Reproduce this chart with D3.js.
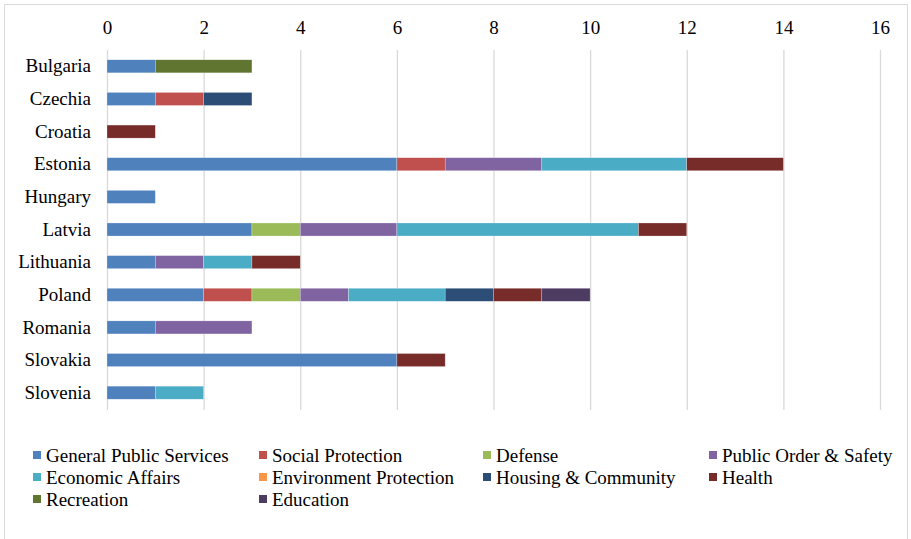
<!DOCTYPE html>
<html><head><meta charset="utf-8">
<script src="https://cdn.jsdelivr.net/npm/d3@7"></script>
<style>body{margin:0;background:#fff}svg{display:block}text{font-family:"Liberation Serif","Times New Roman",serif}</style>
</head><body><svg id="c" width="911" height="539"></svg>
<script>
const countries = ["Bulgaria","Czechia","Croatia","Estonia","Hungary","Latvia","Lithuania","Poland","Romania","Slovakia","Slovenia"];
const seriesNames = ["General Public Services","Social Protection","Defense","Public Order & Safety","Economic Affairs","Environment Protection","Housing & Community","Health","Recreation","Education"];
const seriesColors = ["#4F81BD","#C0504D","#9BBB59","#8064A2","#4BACC6","#F79646","#2C4D75","#772C2A","#5F7530","#4D3B62"];
const generalPublicServices = [1,1,0,6,1,3,1,2,1,6,1];
const socialProtection      = [0,1,0,1,0,0,0,1,0,0,0];
const defense               = [0,0,0,0,0,1,0,1,0,0,0];
const publicOrderSafety     = [0,0,0,2,0,2,1,1,2,0,0];
const economicAffairs       = [0,0,0,3,0,5,1,2,0,0,1];
const environmentProtection = [0,0,0,0,0,0,0,0,0,0,0];
const housingCommunity      = [0,1,0,0,0,0,0,1,0,0,0];
const health                = [0,0,1,2,0,1,1,1,0,1,0];
const recreation            = [2,0,0,0,0,0,0,0,0,0,0];
const education             = [0,0,0,0,0,0,0,1,0,0,0];
const tickValues = [0,2,4,6,8,10,12,14,16];

const seriesValues = [generalPublicServices,socialProtection,defense,publicOrderSafety,economicAffairs,environmentProtection,housingCommunity,health,recreation,education];
const table = countries.map((c,i)=>{const o={country:c};seriesNames.forEach((s,j)=>o[s]=seriesValues[j][i]);return o;});
const stack = d3.stack().keys(seriesNames)(table);

const svg = d3.select("#c");
const font = "Liberation Serif, Times New Roman, serif";
svg.append("rect").attr("x",4.5).attr("y",4.5).attr("width",903).attr("height",540).attr("fill","#fff").attr("stroke","#d9d9d9");

const x = d3.scaleLinear().domain([0,16]).range([107,880]);
const y = d3.scaleBand().domain(countries).range([50,409]).paddingInner(0.6).paddingOuter(0.3);

const xAxis = svg.append("g").attr("transform","translate(0,50)")
  .call(d3.axisTop(x).tickValues(tickValues).tickSize(-360).tickFormat(d3.format("d")));
xAxis.attr("font-family",font);
xAxis.select(".domain").remove();
xAxis.selectAll(".tick line").attr("stroke","#d9d9d9").attr("stroke-width",1.3);
xAxis.selectAll(".tick text").attr("font-family",font).attr("font-size",19).attr("fill","#000").attr("y",-16).attr("dy","0");

const yAxis = svg.append("g").attr("transform","translate(107,0)")
  .call(d3.axisLeft(y).tickSize(0).tickPadding(16));
yAxis.attr("font-family",font);
yAxis.select(".domain").remove();
yAxis.selectAll(".tick text").attr("font-family",font).attr("font-size",19).attr("fill","#000");

svg.append("g").selectAll("g").data(stack).join("g")
  .attr("fill",(d,i)=>seriesColors[i])
  .selectAll("rect").data(d=>d.filter(v=>v[1]>v[0])).join("rect")
  .attr("x",d=>x(d[0])).attr("width",d=>x(d[1])-x(d[0]))
  .attr("y",d=>y(d.data.country)).attr("height",y.bandwidth())
  .attr("stroke","rgba(255,255,255,0.5)").attr("stroke-width",0.5);

const legColX = [33,259,483,709], legRowY = [455,477,499];
const leg = svg.append("g").attr("font-family",font).selectAll("g").data(seriesNames).join("g")
  .attr("transform",(d,i)=>`translate(${legColX[i%4]},${legRowY[Math.floor(i/4)]})`);
leg.append("rect").attr("x",0).attr("y",-4).attr("width",8).attr("height",8).attr("fill",(d,i)=>seriesColors[i]);
leg.append("text").attr("x",13).attr("y",0).attr("dy","0.35em").attr("font-family",font).attr("font-size",19).attr("fill","#000").text(d=>d);
</script></body></html>
